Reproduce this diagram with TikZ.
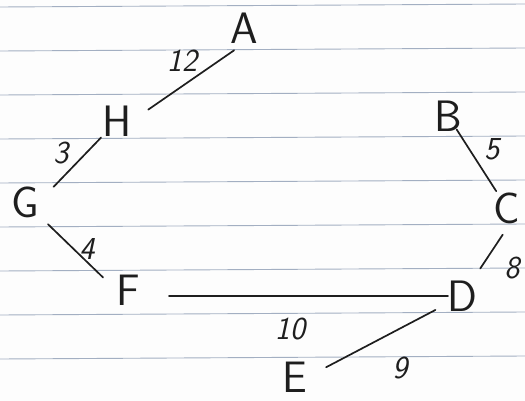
\documentclass[tikz,border=0pt]{standalone}
\usepackage{fontspec}
\usepackage{tikz}
\usetikzlibrary{positioning,calc}
\definecolor{PaperWhite}{HTML}{FDFDFD}
\definecolor{RuleBlue}{HTML}{A3AFC2}
\definecolor{PenInk}{HTML}{1E1E1E}

\begin{document}
\begin{tikzpicture}[
    x=1pt,y=-1pt,
    every node/.style={text=PenInk},
    vtx/.style={inner sep=0pt,font=\sffamily\fontsize{44}{44}\selectfont},
    wgt/.style={inner sep=0pt,font=\sffamily\itshape\fontsize{32}{32}\selectfont},
    edge/.style={PenInk,line width=1.7pt,line cap=round},
    rule/.style={RuleBlue,line width=0.9pt}
  ]
    \useasboundingbox[fill=PaperWhite] (0,0) rectangle (525,401);
    \foreach \ry in {7,51,95,139,183,227,271,315,359}
      \draw[rule] (0,\ry) -- (525,\ry-3);
    \node[vtx] (A) at (244,28) {A};
    \node[vtx] (H) at (117,121) {H};
    \node[vtx] (B) at (448,116) {B};
    \node[vtx] (G) at (25,202) {G};
    \node[vtx] (C) at (507,208) {C};
    \node[vtx] (F) at (128,290) {F};
    \node[vtx] (D) at (462,296) {D};
    \node[vtx] (E) at (295,377) {E};
    \node[wgt] (w12) at (182,61) {12};
    \node[wgt] (w3) at (61,153) {3};
    \node[wgt] (w5) at (492,149) {5};
    \node[wgt] (w4) at (87,249) {4};
    \node[wgt] (w8) at (512,268) {8};
    \node[wgt] (w10) at (290,329) {10};
    \node[wgt] (w9) at (400,368) {9};
    \draw[edge,shorten <=12pt,shorten >=20pt] (A.south) -- (H.east);
    \draw[edge,shorten <=23pt,shorten >=21pt] (H.center) -- (G.east);
    \draw[edge,shorten <=16pt,shorten >=20pt] (B.center) -- (C.center);
    \draw[edge,shorten <=32pt,shorten >=18pt] (G.center) -- (F.west);
    \draw[edge,shorten <=32pt,shorten >=33pt] (C.east) -- (D.center);
    \draw[edge,shorten <=41pt,shorten >=14pt] (F.center |- D.center) -- (D.center);
    \draw[edge,shorten <=30pt,shorten >=21pt] (D.center) -- (E.east);
  \end{tikzpicture}
\end{document}
